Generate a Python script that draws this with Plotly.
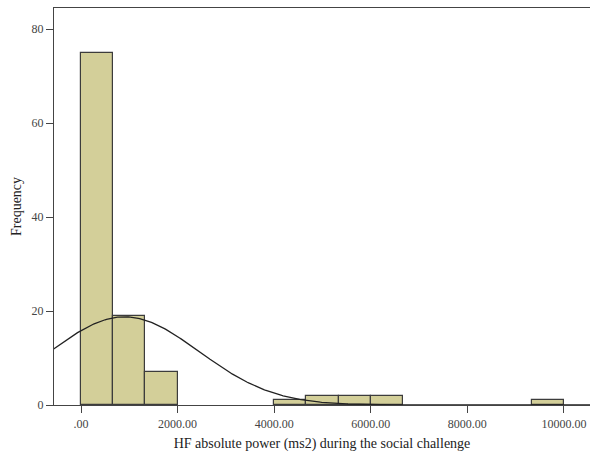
import numpy as np
import plotly.graph_objects as go

# Histogram bins (lower edges) and counts
bin_width = 10000 / 15
bin_starts = [0, 666.67, 1333.33, 4000, 4666.67, 5333.33, 6000, 9333.33]
counts = [75, 19, 7, 1, 2, 2, 2, 1]

# Normal curve parameters (fitted)
mean_val = 900.0
sd_val = 1545.0
n_total = sum(counts)

x_ticks = [0, 2000, 4000, 6000, 8000, 10000]
x_tick_labels = [".00", "2000.00", "4000.00", "6000.00", "8000.00", "10000.00"]
y_ticks = [0, 20, 40, 60, 80]

centers = [s + bin_width / 2 for s in bin_starts]

SERIF = "Times New Roman, Liberation Serif, serif"

fig = go.Figure()
fig.add_trace(go.Bar(
    x=centers, y=counts, width=[bin_width] * len(counts),
    marker=dict(color="#D3CF99", line=dict(color="#3c3c3c", width=1.2)),
    showlegend=False, hoverinfo="skip"))

xs = np.linspace(-700, 10700, 400)
ys = n_total * bin_width / (sd_val * np.sqrt(2 * np.pi)) * np.exp(-((xs - mean_val) ** 2) / (2 * sd_val ** 2))
fig.add_trace(go.Scatter(x=xs, y=ys, mode="lines",
                         line=dict(color="#222222", width=1.3),
                         showlegend=False, hoverinfo="skip"))

fig.update_layout(
    width=590, height=459,
    margin=dict(l=54, r=0, t=8, b=54),
    paper_bgcolor="white", plot_bgcolor="white",
    font=dict(family=SERIF, color="#222"),
    bargap=0,
    xaxis=dict(range=[-559, 10540], tickvals=x_ticks, ticktext=x_tick_labels,
               ticks="outside", ticklen=7, tickcolor="#444", tickwidth=1,
               showline=True, linecolor="#444", linewidth=1.3, mirror=True,
               showgrid=False, zeroline=False,
               tickfont=dict(family=SERIF, size=12, color="#444"),
               title=dict(text="HF absolute power (ms2) during the social challenge",
                          font=dict(family=SERIF, size=14, color="#222"), standoff=8)),
    yaxis=dict(range=[0, 84.5], tickvals=y_ticks,
               ticks="outside", ticklen=7, tickcolor="#444", tickwidth=1,
               showline=True, linecolor="#444", linewidth=1.3,
               showgrid=False, zeroline=False,
               tickfont=dict(family=SERIF, size=12, color="#444"),
               title=dict(text="Frequency", font=dict(family=SERIF, size=14, color="#222"), standoff=6)),
)

fig.write_html("out.html")
